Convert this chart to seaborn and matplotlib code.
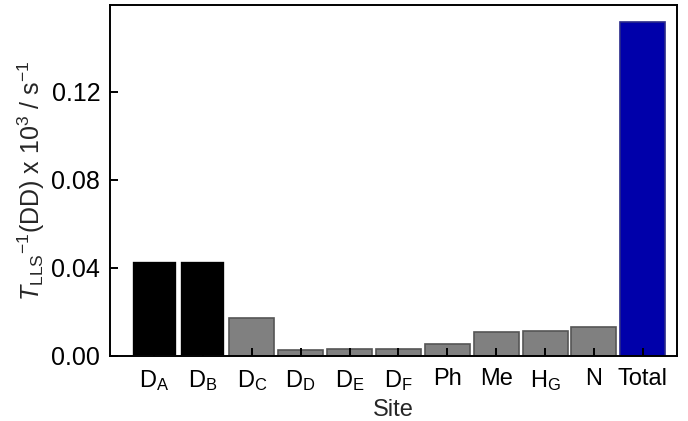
import matplotlib
matplotlib.use("Agg")
import matplotlib.pyplot as plt
import seaborn as sns
import pandas as pd

sites = ["D_A", "D_B", "D_C", "D_D", "D_E", "D_F", "Ph", "Me", "H_G", "N", "Total"]
tick_labels = [r"D$_\mathrm{A}$", r"D$_\mathrm{B}$", r"D$_\mathrm{C}$", r"D$_\mathrm{D}$",
               r"D$_\mathrm{E}$", r"D$_\mathrm{F}$", "Ph", "Me", r"H$_\mathrm{G}$", "N", "Total"]
values = [0.0432, 0.0432, 0.0170, 0.0028, 0.0029, 0.0029, 0.0055, 0.0109, 0.0114, 0.0132, 0.1517]
colors = ["#000000", "#000000"] + ["#808080"] * 8 + ["#0000AA"]
edges = ["white", "white"] + ["#555555"] * 8 + ["#2a2a8a"]
yticks = [0.00, 0.04, 0.08, 0.12]

sns.set_style("white")
plt.rcParams["font.family"] = ["Liberation Sans", "DejaVu Sans"]
plt.rcParams["mathtext.fontset"] = "custom"
plt.rcParams["mathtext.rm"] = "Liberation Sans"
plt.rcParams["mathtext.it"] = "Liberation Sans:italic"
plt.rcParams["mathtext.bf"] = "Liberation Sans:bold"

df = pd.DataFrame({"site": sites, "value": values})

fig = plt.figure(figsize=(6.88, 4.21), dpi=100)
ax = fig.add_axes([0.160, 0.155, 0.824, 0.833])
sns.barplot(data=df, x="site", y="value", hue="site", palette=colors, order=sites,
            hue_order=sites, legend=False, width=0.92, saturation=1, ax=ax)
for patch, ec in zip(ax.patches, edges):
    patch.set_edgecolor(ec)
    patch.set_linewidth(1.2)
    patch.set_zorder(1)
ax.set_axisbelow(False)

ax.set_xlim(-0.9, 10.7)
ax.set_ylim(0, 0.1594)
ax.set_yticks(yticks)
ax.set_yticklabels([f"{t:.2f}" for t in yticks])
ax.set_xticks(range(len(sites)))
ax.set_xticklabels(tick_labels)
ax.tick_params(axis="both", direction="in", length=6, width=1.4,
               bottom=True, left=True, top=False, right=False, colors="black")
ax.tick_params(axis="y", labelsize=18, pad=7)
ax.tick_params(axis="x", pad=9, labelsize=17)
for s in ax.spines.values():
    s.set_visible(True)
    s.set_color("black")
    s.set_linewidth(1.4)
    s.set_zorder(3)
ax.set_xlabel("Site", fontsize=17, labelpad=4)
ax.set_ylabel(r"$T_{\mathrm{LLS}}$$^{-1}$(DD) x 10$^{3}$ / s$^{-1}$", fontsize=18, labelpad=3)
ax.grid(False)

fig.savefig("out.png", dpi=100)
